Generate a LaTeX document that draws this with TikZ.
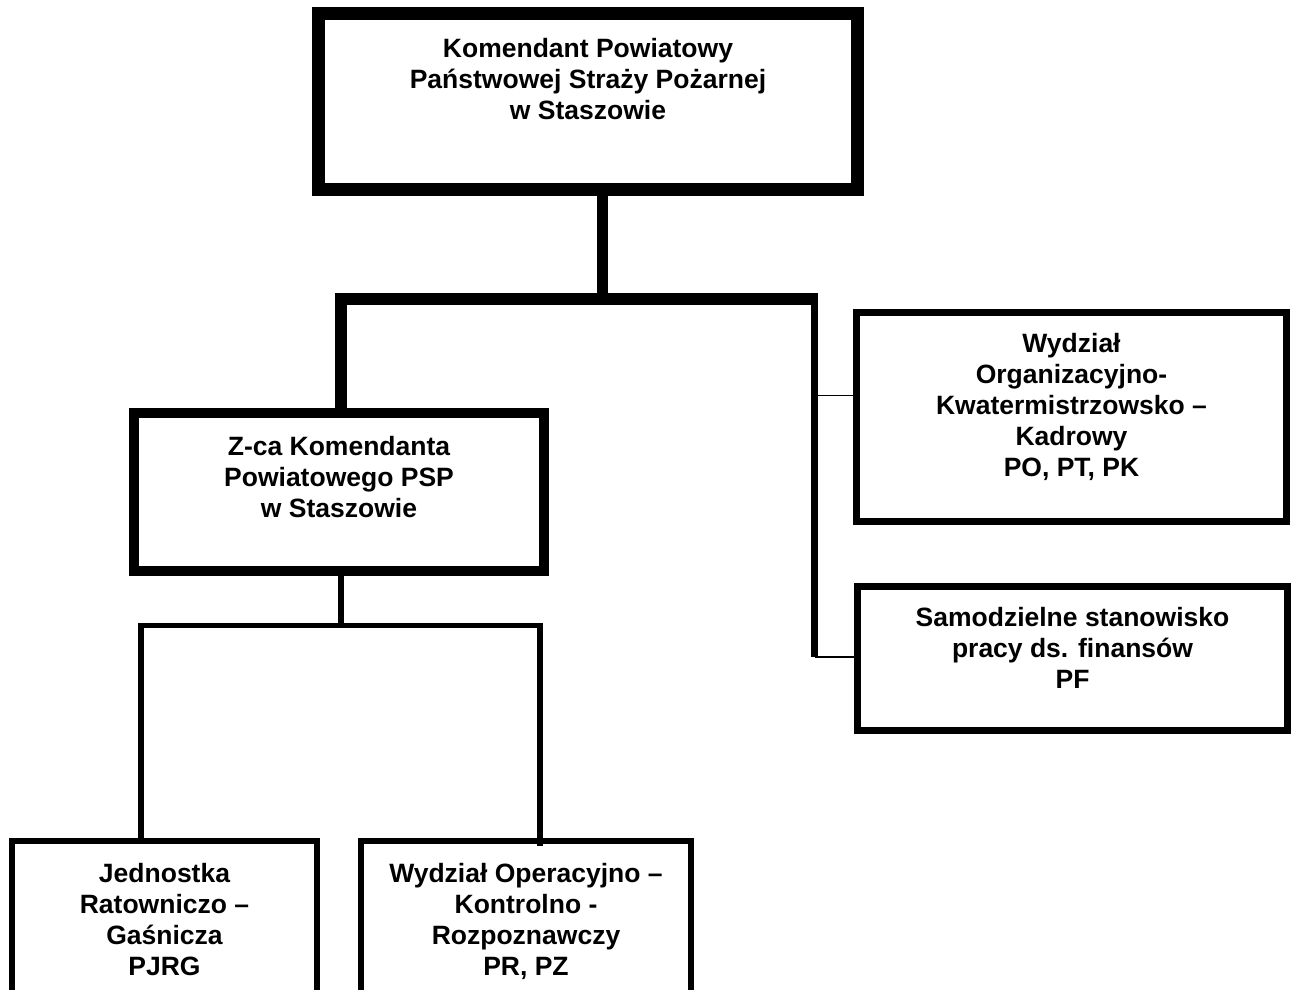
\documentclass[tikz,border=0pt]{standalone}
\usepackage{fontspec}
\setmainfont{Liberation Sans}
\begin{document}
\begin{tikzpicture}[x=1pt,y=-1pt,
  box/.style={draw, rectangle, inner sep=0pt, outer sep=0pt},
  lbl/.style={anchor=north, align=center, inner sep=0pt, outer sep=0pt,
              font=\fontsize{26.5}{31}\selectfont\bfseries},
  thinlink/.style={line width=1.5pt},
  boldlink/.style={line width=12pt},
  midlink/.style={line width=7pt},
  lowlink/.style={line width=5.5pt, line join=miter}]
\useasboundingbox (0,0) rectangle (1299,989);
\clip (0,0) rectangle (1299,989);

% boxes
\node[box, line width=13pt, minimum width=539pt, minimum height=176pt] (K) at (588,101.5) {};
\node[box, line width=10pt, minimum width=410pt, minimum height=158pt] (Z) at (339,492) {};
\node[box, line width=7pt, minimum width=430pt, minimum height=209pt] (WOK) at (1071.5,417) {};
\node[box, line width=7pt, minimum width=430pt, minimum height=144pt] (SS) at (1072.5,658.5) {};
\node[box, line width=6pt, minimum width=305pt, minimum height=300pt] (JRG) at (164.5,991) {};
\node[box, line width=6pt, minimum width=330pt, minimum height=300pt] (WOKR) at (526,991) {};

% texts
\node[lbl] (Kt) at (588,38) {Komendant Powiatowy\\Państwowej Straży Pożarnej\\w Staszowie};
\node[lbl] (Zt) at (339,436) {Z-ca Komendanta\\Powiatowego PSP\\w Staszowie};
\node[lbl] (WOKt) at (1071.5,333) {Wydział\\Organizacyjno-\\Kwatermistrzowsko –\\Kadrowy\\PO, PT, PK};
\node[lbl] (SSt) at (1072.5,607) {Samodzielne stanowisko\\pracy ds. finansów\\PF};
\node[lbl] (JRGt) at (164.5,863) {Jednostka\\Ratowniczo –\\Gaśnicza\\PJRG};
\node[lbl] (WOKRt) at (526,863) {Wydział Operacyjno –\\Kontrolno -\\Rozpoznawczy\\PR, PZ};

% junction coordinates
\coordinate (t) at (602.5,298.5);
\coordinate (bl) at (335,298.5);
\coordinate (br) at (818,298.5);
\coordinate (ld) at (341,298.5);
\coordinate (rt) at (814.5,293);
\coordinate (rb) at (814.5,657);
\coordinate (w1) at (818,395.5);
\coordinate (zj) at (341,625.5);
\coordinate (hl) at (141,625.5);
\coordinate (hr) at (540,625.5);
\coordinate (hre) at (540,846);

% connectors
\draw[line width=11pt] (K.south -| t) -- (t);
\draw[boldlink] (bl) -- (br);
\draw[boldlink] (ld) -- (ld |- Z.north);
\draw[midlink] (rt) -- (rb);
\draw[thinlink] (w1) -- (w1 -| WOK.west);
\draw[thinlink] (rb) -- (rb -| SS.west);
\draw[line width=6pt] (Z.south -| zj) -- (zj);
\draw[lowlink] (JRG.north -| hl) -- (hl) -- (hr) -- (hre);
\end{tikzpicture}
\end{document}
